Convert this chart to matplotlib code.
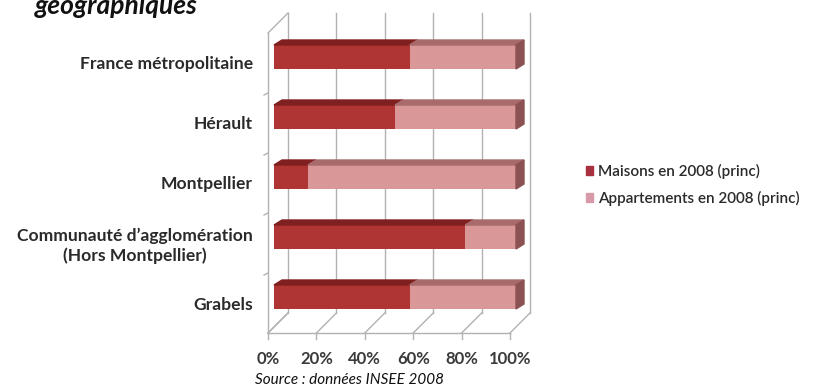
import numpy as np
import matplotlib.pyplot as plt
from matplotlib.patches import Polygon, Patch

plt.rcParams['font.family'] = ['Lato', 'DejaVu Sans']

regions = ["France métropolitaine", "Hérault", "Montpellier",
           "Communauté d’agglomération\n(Hors Montpellier)", "Grabels"]
maisons = [56, 50, 14, 79, 56]
appartements = [44, 50, 86, 21, 44]
ticks = [0, 20, 40, 60, 80, 100]
tick_labels = ["0%", "20%", "40%", "60%", "80%", "100%"]
series = ["Maisons en 2008 (princ)", "Appartements en 2008 (princ)"]

front_colors = ["#ae3534", "#d99797"]
top_colors = ["#801f1f", "#a86a6a"]
side_color = "#8a5252"
grid_color = "#b2b2b2"

W, H = 837, 390
fig = plt.figure(figsize=(W / 100, H / 100), dpi=100)
ax = fig.add_axes([268 / W, 57 / H, 242 / W, 300 / H])
ax.set_xlim(0, 100)
ax.set_ylim(4.5, -0.5)
for s in ax.spines.values():
    s.set_visible(False)

# pixel -> data unit factors, used for the fake depth of the 3D look
PX = 100 / 242
PY = 5 / 300
WALL = (20, -20)
BAR_FRONT = (6, -6)
BAR_BACK = (14, -11)


def sh(x, y, off):
    return x + off[0] * PX, y + off[1] * PY


def line(xs, ys, **kw):
    ax.plot(xs, ys, color=grid_color, lw=1, clip_on=False, zorder=1, **kw)


y0, y1 = 4.5, -0.5
# left wall
line([0, 0], [y0, y1])
bx, by = sh(0, y1, WALL)
line([0, bx], [y1, by])
bx0, by0 = sh(0, y0, WALL)
line([0, bx0], [y0, by0])
for b in np.arange(0.5, 4.5, 1.0):
    line([0, -4 * PX], [b, b + 2 * PY])

# back wall grid + floor
for t in ticks:
    xb, yb_top = sh(t, y1, WALL)
    _, yb_bot = sh(t, y0, WALL)
    line([xb, xb], [yb_bot, yb_top])
    line([t, xb], [y0, yb_bot])
    line([t, t], [y0, y0 + 6 * PY])
line([0, 100], [y0, y0])

# bars: front faces, top faces and right end
ypos = np.arange(len(regions))
hb = 0.4
lefts = [np.zeros(len(regions)), np.array(maisons, float)]
for k, vals in enumerate([maisons, appartements]):
    fx, fy = sh(lefts[k], ypos, BAR_FRONT)
    ax.barh(fy, vals, left=fx, height=hb, color=front_colors[k],
            zorder=3, clip_on=False)
    for i in ypos:
        l, r = lefts[k][i], lefts[k][i] + vals[i]
        top = i - hb / 2
        pts = [sh(l, top, BAR_FRONT), sh(r, top, BAR_FRONT),
               sh(r, top, BAR_BACK), sh(l, top, BAR_BACK)]
        ax.add_patch(Polygon(pts, closed=True, color=top_colors[k],
                             zorder=3, clip_on=False))
for i in ypos:
    end = maisons[i] + appartements[i]
    pts = [sh(end, i - hb / 2, BAR_FRONT), sh(end, i - hb / 2, BAR_BACK),
           sh(end, i + hb / 2, BAR_BACK), sh(end, i + hb / 2, BAR_FRONT)]
    ax.add_patch(Polygon(pts, closed=True, color=side_color,
                         zorder=3, clip_on=False))

ax.set_xticks(ticks)
ax.set_xticklabels(tick_labels, fontsize=12, fontweight='bold', color='#3a3a3a')
ax.set_yticks(ypos)
ax.set_yticklabels(regions, fontsize=12.6, fontweight='bold', color='#2a2a2a')
for lab in ax.get_yticklabels():
    lab.set_multialignment('center')
ax.tick_params(axis='x', length=0, pad=13)
ax.tick_params(axis='y', length=0, pad=11)

handles = [Patch(color=c) for c in ["#a8303f", "#d89aa8"]]
fig.legend(handles, series, loc='upper left',
           bbox_to_anchor=(572 / W, 1 - 150 / H), frameon=False,
           handlelength=0.5, handleheight=0.5, handletextpad=0.3,
           labelspacing=0.8, prop={'size': 11, 'weight': 'semibold'},
           labelcolor='#2a2a2a')

fig.text(35 / W, 1 - 14 / H, "géographiques", fontsize=19,
         fontweight='bold', style='italic', va='baseline', color='#111111')
fig.text(255 / W, 1 - 384 / H, "Source : données INSEE 2008", fontsize=11,
         style='italic', va='baseline', color='#111111')

fig.savefig("out.png", dpi=100)
